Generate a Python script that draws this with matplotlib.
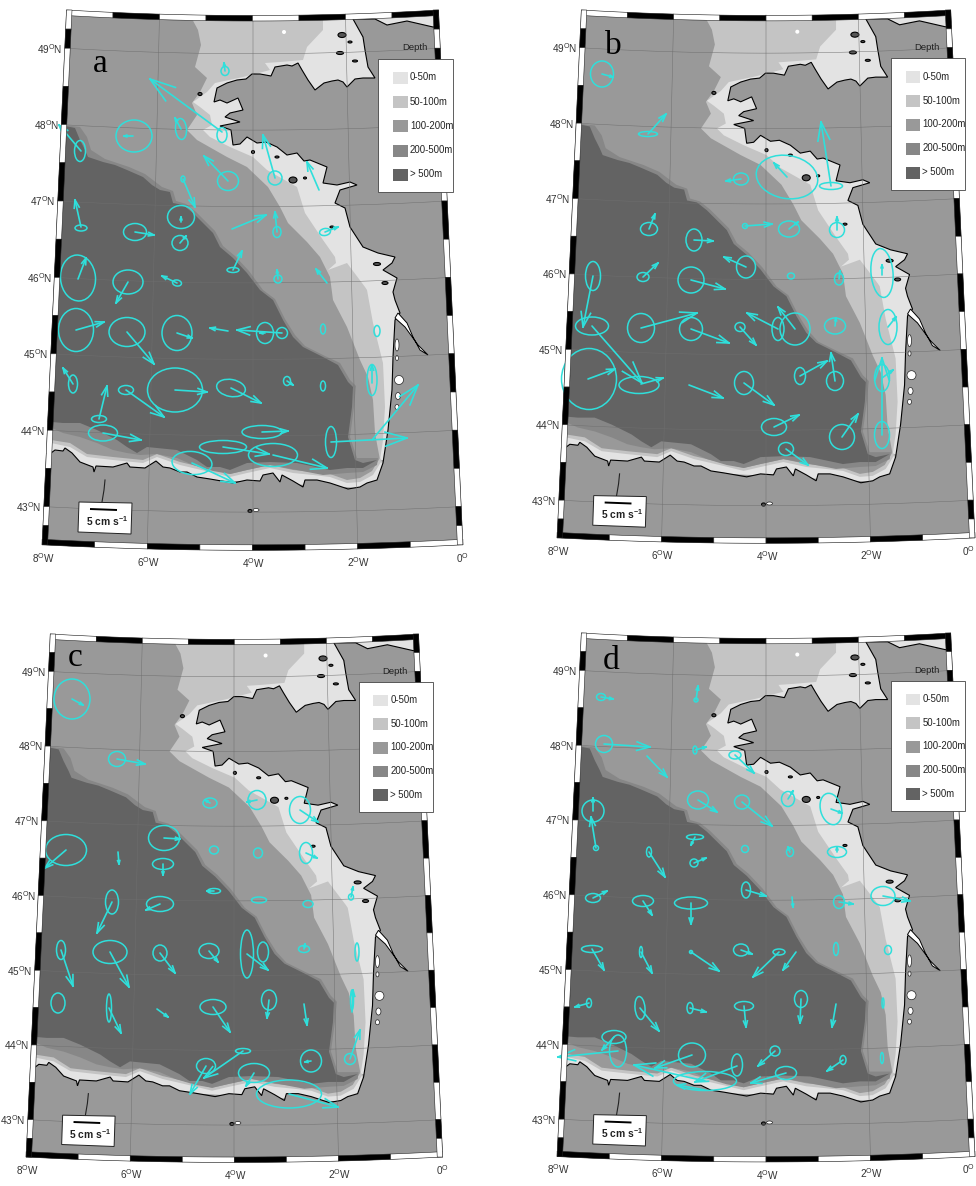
import numpy as np
import matplotlib
matplotlib.use('Agg')
import matplotlib.pyplot as plt
from matplotlib.patches import Ellipse, Polygon, Rectangle

plt.rcParams['font.family'] = ['Liberation Sans', 'DejaVu Sans']

# base map, digitised in projected map units (x, y), same for all four panels
land = [(353,19),(358,28),(363,37),(365,50),(368,67),(375,78),(363,78),(355,79),(347,87),(343,82),(338,80),(332,81),
        (324,83),(315,90),(308,80),(302,70),(298,63),(292,66),(287,65),(275,67),(271,76),(260,74),(252,74),(246,79),(237,80),
        (227,83),(217,88),(214,102),(220,100),(227,103),(238,98),(243,110),(230,113),(225,117),(240,122),(220,126),
        (231,130),(233,145),(240,144),(247,137),(257,143),(266,142),(277,147),(287,155),(297,153),(304,161),(310,160),(327,167),
        (323,183),(337,185),(350,182),(357,185),(340,190),(335,203),(345,208),(350,227),(363,247),(378,253),(395,257),
        (392,263),(383,270),(397,278),(393,292),(395,300),(400,313),(395,320),(393,357),(392,390),(388,430),(383,463),
        (377,480),(367,483),(360,487),(348,489),(330,483),(317,480),(305,480),(303,487),(293,481),(282,475),(280,482),(273,473),
        (263,475),(260,481),(247,480),(233,483),(210,479),(197,477),(187,472),(180,472),(170,468),(163,467),(156,461),(145,468),
        (130,467),(127,463),(113,467),(96,466),(94,472),(93,467),(80,462),(72,453),(65,448),(63,451),(55,450),(51,453),
        (35,455),(35,560),(470,560),(450,25),(433,27),(407,21),(387,25),(375,19)]
shelf_50_100 = [(190,15),(198,30),(201,45),(195,67),(207,78),(200,92),(192,103),(197,115),(187,130),(197,140),(227,157),
                (247,167),(268,187),(280,207),(288,223),(307,242),(320,257),(330,277),(333,300),(347,327),(360,360),(368,377),
                (373,400),(375,433),(380,460),(400,460),(410,300),(400,100),(380,15)]
shelf_0_50 = [(323,15),(323,30),(307,47),(303,60),(280,62),(265,63),(270,70),(243,77),(215,83),(207,92),(193,102),(200,107),
              (210,115),(212,125),(203,130),(210,137),(230,147),(253,157),(267,170),(297,187),(305,213),(323,240),(335,257),
              (336,263),(328,270),(347,263),(365,287),(367,290),(373,323),(383,363),(385,407),(383,440),(380,460),(400,460),
              (420,300),(400,250),(400,100),(450,15)]
south_50_100 = [(380,458),(372,471),(360,478),(347,480),(330,474),(313,472),(293,470),(270,465),(247,470),(230,474),
                (210,469),(180,462),(157,454),(143,460),(113,457),(87,454),(70,443),(51,440),(35,440),(35,470),(400,490)]
south_0_50 = [(381,462),(373,475),(360,482),(347,483),(330,477),(313,475),(293,473),(270,468),(247,473),(230,477),
              (210,472),(180,465),(157,457),(143,463),(113,460),(87,457),(70,447),(51,443),(35,443),(35,470),(400,490)]
deep_200_500 = [(35,125),(63,125),(80,127),(87,137),(91,150),(105,159),(129,167),(145,174),(162,187),(173,191),(176,201),
                (186,204),(196,212),(205,221),(215,231),(223,246),(235,256),(249,271),(263,290),(275,299),(285,319),(295,335),
                (305,346),(325,356),(340,363),(350,380),(356,386),(354,407),(350,437),(357,458),(378,458),(377,465),(363,472),
                (347,473),(323,475),(297,470),(270,465),(247,470),(230,474),(213,471),(193,465),(177,458),(157,454),(140,455),
                (127,453),(113,450),(97,443),(80,437),(63,433),(52,428),(35,428)]
deep_500 = [(35,126),(65,126),(75,128),(80,140),(85,150),(88,157),(103,162),(115,165),(127,170),(143,177),(152,185),(160,190),(170,192),
            (173,203),(183,205),(193,213),(203,223),(213,233),(220,247),(233,258),(247,273),(260,290),(273,300),(283,320),
            (293,337),(303,347),(323,357),(338,365),(348,382),(353,387),(352,407),(348,437),(355,460),(363,463),(377,460),
            (363,468),(347,468),(330,470),(297,463),(270,462),(247,463),(230,470),(220,467),(207,467),(197,460),(177,450),
            (147,447),(137,453),(127,447),(117,440),(97,430),(80,423),(63,423),(52,422),(35,422)]
gironde = [(398,313),(407,323),(413,337),(420,350),(428,355),(418,345),(405,327),(395,318)]
white_islands = [(397,345,4,12),(397,358,3,5),(399,380,9,9),(398,396,5,7),(397,407,4,5),(256,510,6,3)]
shelf_spots = [(284,32,4,4)]
dark_islands = [(342,35,8,5),(340,53,7,3),(355,61,5,2),(350,42,4,2),(293,180,8,6),(200,94,4,3),(377,264,7,3),
                (253,152,3,3),(277,157,4,2),(332,227,4,2),(305,178,3,2),(250,511,4,3),(385,283,6,3)]
spain_river = [(105,480),(104,490),(102,502)]

depth_labels = ['0-50m', '50-100m', '100-200m', '200-500m', '> 500m']
depth_colors = ['#e3e3e3', '#c4c4c4', '#999999', '#878787', '#636363']
lat_ticks = [49, 48, 47, 46, 45, 44, 43]
lon_ticks = [8, 6, 4, 2, 0]

# panel placement: origin and scale of the base map
panel_names = ['a', 'b', 'c', 'd']
panel_x0 = [42, 557, 26, 557]
panel_y0 = [10, 10, 634, 633]
panel_sx = [1.0, 0.993, 0.990, 0.993]
panel_sy = [1.0, 0.987, 0.978, 0.979]
letter_x = [100, 613, 75, 611]
letter_y = [64, 46, 658, 661]

# current ellipses (centre x, centre y, width, height, tilt) and mean vectors (x0, y0, x1, y1)
ell_a = [(225,71,8,9,0),(222,135,10,15,0),(181,129,11,21,-5),(134,136,36,32,0),(80,151,11,21,0),(275,178,14,14,0),
         (228,181,21,19,0),(183,179,4,6,0),(181,217,27,23,0),(81,228,12,6,0),(135,232,23,17,0),(180,243,16,15,0),
         (277,232,8,11,0),(325,232,11,7,-10),(233,270,12,5,0),(278,279,8,8,0),(177,283,9,6,10),(78,278,35,46,-5),
         (128,282,30,24,0),(76,330,35,43,0),(127,332,36,29,0),(177,333,30,35,0),(265,333,17,21,0),(282,333,11,11,0),
         (323,329,5,10,0),(377,331,6,11,0),(73,384,9,18,0),(99,419,15,7,0),(126,390,15,9,0),(175,390,55,44,0),
         (231,388,29,17,10),(287,381,7,9,0),(323,386,5,10,0),(372,380,10,31,0),(103,433,29,16,0),(262,432,40,13,0),
         (331,442,11,31,0),(223,447,47,13,0),(273,455,49,23,0),(192,463,40,23,5)]
vec_a = [(225,71,224,63),(222,132,150,79),(181,129,175,118),(133,136,124,136),(81,151,59,125),(275,178,263,135),
         (319,190,307,162),(228,181,204,156),(183,179,195,207),(181,222,181,217),(81,227,75,200),(135,232,154,235),
         (180,243,186,236),(232,229,266,215),(277,232,275,212),(325,232,338,227),(233,270,242,251),(278,279,277,270),
         (327,283,316,269),(177,283,162,276),(78,279,86,258),(128,282,116,303),(76,330,104,322),(127,332,154,364),
         (177,333,192,338),(228,331,210,328),(282,333,237,330),(265,333,260,333),(73,384,63,368),(99,419,107,386),
         (126,390,164,417),(175,390,207,392),(231,388,261,403),(287,381,293,385),(372,383,372,365),(103,433,141,440),
         (262,432,288,431),(331,442,407,438),(223,447,269,454),(273,455,327,468),(192,463,235,483),(372,440,418,385)]

ell_b = [(602,74,23,26,0),(648,134,19,5,0),(787,177,62,43,10),(741,179,15,12,0),(831,186,23,7,0),(649,229,17,13,0),
         (694,240,16,22,0),(745,226,5,5,0),(789,229,21,16,0),(837,230,15,15,0),(746,267,19,22,0),(643,277,12,9,0),
         (691,280,26,26,0),(593,276,15,29,0),(791,276,7,6,0),(839,279,9,12,0),(882,273,22,49,-5),(592,326,33,18,0),
         (641,328,27,29,0),(691,329,23,23,0),(740,327,10,9,0),(778,329,12,23,0),(795,329,30,32,0),(835,326,21,16,0),
         (888,327,18,35,0),(589,379,55,61,0),(639,385,40,17,0),(744,383,19,23,0),(800,376,11,17,0),(835,381,17,19,0),
         (882,378,15,27,0),(882,435,15,27,0),(774,427,25,17,0),(842,437,25,25,0),(786,449,15,13,0)]
vec_b = [(602,74,613,77),(648,134,666,114),(787,177,774,163),(741,179,726,181),(831,186,821,122),(649,229,655,214),
         (694,240,713,241),(745,226,772,224),(789,229,798,222),(837,230,837,217),(746,267,724,257),(643,277,658,263),
         (691,280,725,289),(593,276,583,327),(839,279,840,271),(882,275,882,265),(592,326,642,383),(641,328,697,313),
         (691,329,729,343),(740,327,756,345),(778,329,747,313),(795,329,778,307),(835,326,836,318),(888,327,896,317),
         (588,379,615,369),(641,384,663,378),(689,385,723,398),(744,383,774,405),(800,376,827,361),(835,381,831,353),
         (882,378,893,370),(882,435,882,358),(774,427,799,415),(842,437,858,414),(786,449,808,465)]

ell_c = [(72,699,36,40,0),(117,759,17,15,0),(210,803,14,10,0),(257,800,18,19,0),(300,810,21,27,0),(164,838,31,25,0),
         (66,850,41,31,0),(163,864,21,11,0),(214,850,9,8,0),(258,853,9,10,0),(306,853,13,21,0),(214,891,13,5,0),
         (259,900,15,6,0),(308,904,10,7,0),(351,897,5,6,0),(112,902,13,24,0),(160,904,27,15,0),(61,950,9,19,0),
         (110,952,34,23,0),(160,953,14,16,0),(209,951,20,15,0),(247,954,13,48,0),(263,952,11,20,0),(304,949,11,7,0),
         (357,952,4,18,0),(58,1003,14,20,0),(109,1008,5,28,0),(213,1007,26,15,0),(269,1000,15,20,0),(352,1000,3,20,0),
         (350,1059,11,11,0),(243,1051,15,5,0),(206,1066,19,15,0),(254,1073,31,19,0),(311,1061,21,22,0),(289,1094,65,28,0)]
vec_c = [(72,699,83,705),(117,759,145,764),(210,803,205,800),(257,800,247,802),(300,810,318,822),(164,838,180,839),
         (66,850,45,868),(118,852,119,864),(163,864,163,875),(306,853,317,858),(214,891,207,891),(351,897,353,887),
         (112,902,97,933),(160,904,146,910),(61,950,73,986),(110,952,129,987),(160,953,175,973),(209,951,218,962),
         (247,954,268,970),(304,949,305,944),(109,1008,121,1033),(157,1009,168,1017),(213,1007,230,1032),
         (269,1000,267,1018),(304,1004,307,1025),(352,1012,353,990),(350,1059,360,1030),(243,1051,204,1078),
         (206,1066,190,1094),(254,1073,246,1086),(311,1061,305,1062),(289,1094,338,1107)]

ell_d = [(601,697,9,7,0),(696,700,4,4,0),(604,744,17,17,0),(695,750,4,8,0),(735,755,12,8,0),(698,800,21,18,0),
         (742,802,15,14,0),(788,799,13,15,0),(831,809,21,32,-15),(593,811,22,22,0),(596,848,5,5,0),(695,837,17,5,0),
         (649,852,5,10,0),(745,849,7,7,0),(790,852,7,9,0),(837,852,19,11,0),(694,863,8,8,0),(746,890,9,16,0),
         (593,898,15,9,0),(643,901,21,11,0),(691,903,33,12,0),(839,902,11,13,0),(883,896,24,19,0),(592,949,21,7,0),
         (641,952,3,11,0),(691,952,3,3,0),(741,950,15,12,0),(779,952,12,6,0),(836,949,5,13,0),(888,950,7,9,0),
         (589,1003,5,9,0),(640,1008,10,23,-5),(690,1008,6,11,0),(744,1006,19,9,0),(801,999,13,17,0),(883,1003,2,10,0),
         (614,1037,24,13,0),(618,1051,17,32,0),(692,1055,27,24,0),(737,1065,11,22,0),(705,1081,63,19,0),(775,1051,10,10,0),
         (786,1073,21,13,0),(843,1060,6,9,0),(882,1058,3,11,0)]
vec_d = [(601,697,613,699),(696,700,698,686),(604,744,650,747),(695,750,706,747),(647,756,667,777),(735,755,754,773),
         (698,800,717,812),(742,802,772,826),(788,799,793,791),(831,809,842,813),(593,811,593,798),(596,848,591,817),
         (695,837,691,845),(649,852,665,877),(790,852,788,847),(837,852,837,847),(694,863,706,858),(746,890,766,896),
         (593,898,607,891),(643,901,652,915),(691,903,691,924),(792,897,793,907),(839,902,853,904),(883,896,910,901),
         (592,949,604,970),(641,952,652,973),(691,952,719,971),(741,950,752,954),(779,952,753,977),(796,952,783,970),
         (589,1003,575,1007),(640,1008,659,1031),(690,1008,706,1012),(744,1006,746,1027),(801,999,800,1023),(836,1004,832,1027),
         (614,1037,602,1050),(618,1051,558,1057),(692,1055,655,1068),(737,1066,695,1082),(705,1081,634,1065),(775,1051,758,1066),
         (786,1073,751,1083),(843,1060,827,1071),(705,1090,677,1085)]

panel_ell = [ell_a, ell_b, ell_c, ell_d]
panel_vec = [vec_a, vec_b, vec_c, vec_d]

CYAN = '#2fdfdb'


def proj(lon, lat):
    # conic-like grid fitted on the frame of panel a
    lon = np.asarray(lon, float)
    lat = np.asarray(lat, float)
    k = 46.5 + (49.5 - lat) * (52.6 - 46.5) / 7.0
    x = 252.5 + (lon + 4) * k
    y = 10 + (49.5 - lat) * 76.4 + 5.5 * (1 - ((lon + 4) / 4) ** 2)
    return x, y


def draw_vector(ax, x0, y0, x1, y1):
    dx, dy = x1 - x0, y1 - y0
    L = np.hypot(dx, dy)
    ang = np.arctan2(dy, dx)
    head = max(0.3 * L, 3)
    ax.plot([x0, x1], [y0, y1], color=CYAN, lw=1.2, zorder=5, solid_capstyle='round')
    for s in (-1, 1):
        a = ang + np.pi + s * np.radians(18)
        ax.plot([x1, x1 + head * np.cos(a)], [y1, y1 + head * np.sin(a)], color=CYAN, lw=1.2, zorder=5)


def draw_panel(ax, i):
    ox, oy, sx, sy = panel_x0[i], panel_y0[i], panel_sx[i], panel_sy[i]

    def tx(x):
        return ox + sx * (np.asarray(x, float) - 42)

    def ty(y):
        return oy + sy * (np.asarray(y, float) - 10)

    def poly(pts):
        p = np.array(pts, float)
        return np.column_stack([tx(p[:, 0]), ty(p[:, 1])])

    # outline of the map
    lons = np.linspace(-8, 0, 41)
    lats = np.linspace(49.5, 42.5, 15)
    tx_, ty_ = proj(lons, 49.5)
    rx_, ry_ = proj(0, lats)
    bx_, by_ = proj(lons[::-1], 42.5)
    lx_, ly_ = proj(-8, lats[::-1])
    outline = np.column_stack([np.r_[tx_, rx_, bx_, lx_], np.r_[ty_, ry_, by_, ly_]])
    bg = Polygon(poly(outline), closed=True, fc=depth_colors[2], ec='none', zorder=1)
    ax.add_patch(bg)

    layers = [(shelf_50_100, depth_colors[1]), (shelf_0_50, depth_colors[0]),
              (south_50_100, depth_colors[1]), (south_0_50, depth_colors[0]),
              (deep_200_500, depth_colors[3]), (deep_500, depth_colors[4])]
    for pts, col in layers:
        p = Polygon(poly(pts), closed=True, fc=col, ec='none', zorder=1.2)
        ax.add_patch(p)
        p.set_clip_path(bg)
    p = Polygon(poly(land), closed=True, fc=depth_colors[2], ec='black', lw=0.8, zorder=1.4)
    ax.add_patch(p)
    p.set_clip_path(bg)
    ax.add_patch(Polygon(poly(gironde), closed=True, fc='white', ec='black', lw=0.7, zorder=1.5))
    for cx, cy, w, h in shelf_spots:
        ax.add_patch(Ellipse((tx(cx), ty(cy)), w, h, fc='white', ec='none', zorder=1.3))
    for cx, cy, w, h in white_islands:
        ax.add_patch(Ellipse((tx(cx), ty(cy)), w, h, fc='white', ec='#222222', lw=0.5, zorder=1.5))
    for cx, cy, w, h in dark_islands:
        ax.add_patch(Ellipse((tx(cx), ty(cy)), w, h, fc='#555555', ec='black', lw=0.8, zorder=1.5))
    r = poly(spain_river)
    ax.plot(r[:, 0], r[:, 1], color='#222222', lw=0.8, zorder=1.5)

    # graticule
    for lon in lon_ticks:
        la = np.linspace(49.5, 42.5, 30)
        gx, gy = proj(-lon, la)
        ax.plot(tx(gx), ty(gy), color='#6f6f6f', lw=0.35, zorder=1.6)
    for lat in lat_ticks:
        lo = np.linspace(-8, 0, 30)
        gx, gy = proj(lo, lat)
        ax.plot(tx(gx), ty(gy), color='#6f6f6f', lw=0.35, zorder=1.6)

    # current ellipses and vectors
    for cx, cy, w, h, ang in panel_ell[i]:
        ax.add_patch(Ellipse((cx, cy), w, h, angle=ang, fc='none', ec=CYAN, lw=1.1, zorder=5))
    for x0, y0, x1, y1 in panel_vec[i]:
        draw_vector(ax, x0, y0, x1, y1)

    # black and white frame
    bw = 5.5
    lon_edges = np.arange(-8, 1)
    for j in range(8):
        top_col = 'white' if j % 2 == 0 else 'black'
        bot_col = 'black' if j % 2 == 0 else 'white'
        seg = np.linspace(lon_edges[j], lon_edges[j + 1], 6)
        sxx, syy = proj(seg, 49.5)
        q = np.r_[np.column_stack([sxx, syy]), np.column_stack([sxx[::-1], syy[::-1] + bw])]
        ax.add_patch(Polygon(poly(q), closed=True, fc=top_col, ec='#222222', lw=0.4, zorder=6))
        sxx, syy = proj(seg, 42.5)
        q = np.r_[np.column_stack([sxx, syy]), np.column_stack([sxx[::-1], syy[::-1] - bw])]
        ax.add_patch(Polygon(poly(q), closed=True, fc=bot_col, ec='#222222', lw=0.4, zorder=6))
    lat_edges = [49.5, 49.25] + list(np.arange(49, 42.9, -0.5)) + [42.75, 42.5]
    for j in range(len(lat_edges) - 1):
        left_col = 'white' if j % 2 == 0 else 'black'
        right_col = 'black' if j % 2 == 0 else 'white'
        xa, ya = proj(-8, lat_edges[j])
        xb, yb = proj(-8, lat_edges[j + 1])
        q = [(xa, ya), (xb, yb), (xb + bw, yb), (xa + bw, ya)]
        ax.add_patch(Polygon(poly(q), closed=True, fc=left_col, ec='#222222', lw=0.4, zorder=6))
        xa, ya = proj(0, lat_edges[j])
        xb, yb = proj(0, lat_edges[j + 1])
        q = [(xa, ya), (xb, yb), (xb - bw, yb), (xa - bw, ya)]
        ax.add_patch(Polygon(poly(q), closed=True, fc=right_col, ec='#222222', lw=0.4, zorder=6))

    # tick labels
    for lat in lat_ticks:
        gx, gy = proj(-8, lat)
        ax.text(tx(gx - 2), ty(gy + 0.5), '%d$^{\\mathregular{O}}$N' % lat, ha='right', va='center',
                fontsize=7.2, color='#333333', zorder=8)
    for lon in lon_ticks:
        gx, gy = proj(-lon, 42.5)
        if lon > 0:
            ax.text(tx(gx + 1), ty(gy + 13), '%d$^{\\mathregular{O}}$W' % lon, ha='center', va='center',
                    fontsize=7.2, color='#333333', zorder=8)
        else:
            # right column runs up against the edge of the page
            xr = min(float(tx(gx)) + 6, 975)
            ax.text(xr, ty(gy + 13), '0$^{\\mathregular{O}}$', ha='right', va='center',
                    fontsize=7.2, color='#333333', zorder=8)

    # depth legend
    ax.text(tx(415), ty(48), 'Depth', ha='center', va='center', fontsize=6.8, color='#222222', zorder=8)
    ax.add_patch(Rectangle((tx(378), ty(59)), 75 * sx, 133 * sy, fc='white', ec='#444444', lw=0.6, zorder=7))
    for j, (lab, col) in enumerate(zip(depth_labels, depth_colors)):
        yy = 72 + 24.2 * j
        ax.add_patch(Rectangle((tx(393), ty(yy)), 15 * sx, 12 * sy, fc=col, ec='none', zorder=8))
        ax.text(tx(410), ty(yy + 5.5), lab, ha='left', va='center', fontsize=6.9, color='#222222', zorder=8)

    # scale box
    sb = [(79,502),(132,503),(131,534),(78,532)]
    ax.add_patch(Polygon(poly(sb), closed=True, fc='white', ec='#222222', lw=0.7, zorder=7))
    ax.plot(tx([90, 117]), ty([509, 510]), color='black', lw=1.4, zorder=8, solid_capstyle='butt')
    ax.text(tx(107), ty(521), '5 cm s$^{\\mathregular{-1}}$', ha='center', va='center', fontsize=7.4,
            fontweight='bold', color='#222222', zorder=8)

    # panel letter
    ax.text(letter_x[i], letter_y[i], panel_names[i], ha='center', va='center', fontsize=24,
            family='Liberation Serif', color='black', zorder=8)


fig = plt.figure(figsize=(9.76, 11.86), dpi=100)
ax = fig.add_axes([0, 0, 1, 1])
ax.set_xlim(0, 976)
ax.set_ylim(1186, 0)
ax.axis('off')

for i in range(4):
    draw_panel(ax, i)

fig.savefig('out.png', dpi=100)
